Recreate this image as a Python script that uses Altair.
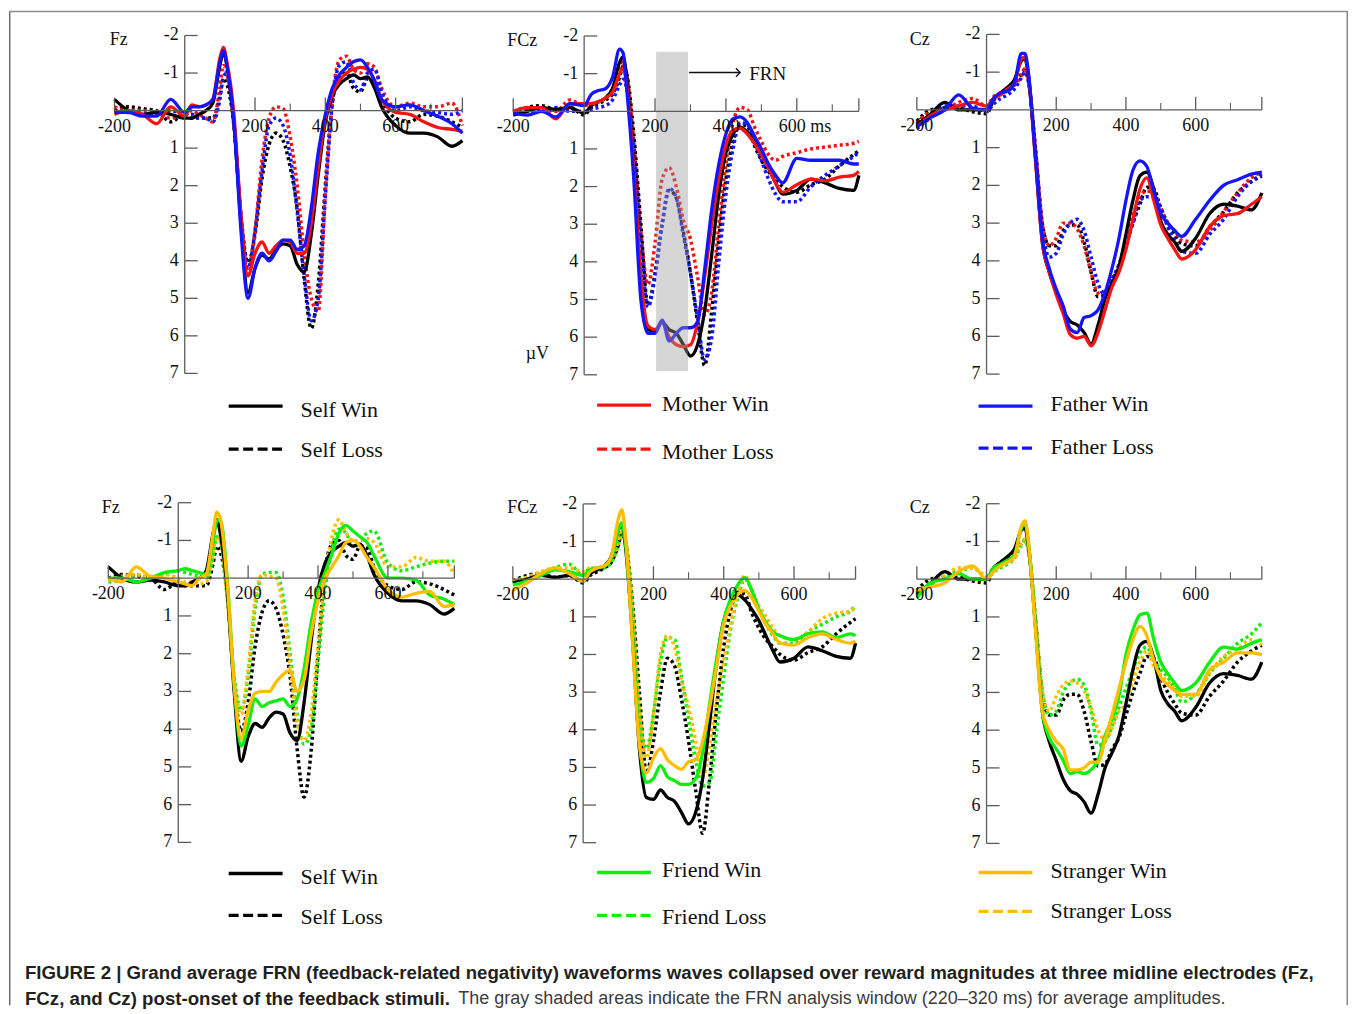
import altair as alt
import pandas as pd

# ---------------- time grids (ms) ----------------
T = [-200, -160, -120, -80, -40, 0, 20, 40, 60, 80, 100, 110, 120, 140, 160, 180, 200, 220,
     240, 260, 280, 300, 320, 340, 360, 380, 400, 420, 440, 460, 480, 500, 520, 540, 560,
     600, 640, 680, 720, 760, 790]
T_FCZ = T[:-1] + [775]

# ---------------- Fz ----------------
FZ_SELF_WIN = [-0.3, 0.0, 0.1, 0.05, 0.1, 0.2, 0.2, 0.1, 0.0, -0.2, -1.2, -1.55,
               -1.2, 0.3, 3.0, 4.85, 4.2, 3.85, 3.95, 3.7, 3.55, 3.6, 4.1, 4.3, 3.3, 1.7, 0.3,
               -0.4, -0.7, -0.85, -0.95, -0.85, -0.9, -0.6, -0.1, 0.4, 0.6, 0.6, 0.7, 0.95, 0.8]
FZ_SELF_LOSS = [0.0, -0.1, -0.05, 0.0, 0.3, 0.1, 0.2, 0.2, 0.2, 0.2, -0.4, -0.85,
                -0.7, 0.4, 2.8, 4.05, 3.3, 1.8, 0.9, 0.6, 0.8, 1.5, 2.6, 4.5, 5.8, 4.6, 2.0,
                -0.2, -0.9, -1.0, -0.6, -0.5, -0.85, -0.8, -0.3, 0.2, 0.3, 0.1, 0.15, 0.3, 0.45]
FZ_MOTHER_WIN = [0.1, 0.0, 0.1, 0.35, -0.1, 0.15, -0.15, -0.1, -0.15, -0.3, -1.4, -1.68,
                 -1.3, 0.1, 2.8, 4.4, 3.8, 3.5, 3.8, 3.6, 3.45, 3.5, 3.8, 3.8, 3.0, 1.5, 0.2,
                 -0.45, -0.8, -1.0, -1.1, -1.15, -1.1, -0.8, -0.3, 0.05, 0.1, 0.3, 0.45, 0.5, 0.55]
FZ_MOTHER_LOSS = [-0.1, 0.0, 0.0, 0.1, 0.2, 0.1, 0.0, 0.1, 0.2, 0.3, -0.6, -1.2,
                  -1.0, 0.4, 2.8, 4.35, 3.2, 1.3, 0.2, -0.1, -0.05, 0.7, 2.0, 3.8, 5.0, 5.35, 2.2,
                  -0.3, -1.35, -1.45, -1.1, -1.0, -1.25, -1.15, -0.6, -0.1, -0.2, -0.1, -0.1, -0.2, 0.4]
FZ_FATHER_WIN = [0.05, 0.05, 0.15, 0.15, -0.3, 0.05, -0.1, -0.1, -0.15, -0.3, -1.3, -1.6,
                 -1.2, 0.3, 3.2, 5.0, 4.2, 3.8, 4.0, 3.75, 3.45, 3.45, 3.7, 3.6, 2.6, 1.1, 0.1,
                 -0.6, -0.95, -1.15, -1.3, -1.35, -1.15, -0.8, -0.3, -0.1, -0.15, 0.0, 0.15, 0.35, 0.6]
FZ_FATHER_LOSS = [0.0, 0.05, 0.1, 0.1, 0.0, 0.1, 0.1, 0.2, 0.2, 0.3, -0.3, -0.9,
                  -1.0, 0.4, 2.8, 4.2, 3.2, 1.6, 0.4, 0.2, 0.4, 1.2, 2.7, 4.4, 5.6, 5.0, 2.3,
                  -0.2, -1.2, -1.3, -0.75, -0.55, -1.0, -1.1, -0.5, 0.0, -0.1, 0.0, 0.05, 0.1, 0.0]
FZ_FRIEND_WIN = [0.0, 0.0, 0.1, 0.0, -0.15, -0.2, -0.25, -0.2, -0.15, -0.1, -1.0, -1.5,
                 -1.55, 0.0, 2.8, 4.45, 3.9, 3.2, 3.4, 3.3, 3.25, 3.2, 3.4, 3.2, 2.4, 1.2, 0.35,
                 -0.15, -0.65, -1.2, -1.4, -1.25, -1.1, -0.95, -0.6, 0.0, 0.0, 0.05, 0.45, 0.55, 0.7]
FZ_FRIEND_LOSS = [0.1, 0.05, -0.1, 0.0, -0.1, -0.2, -0.15, -0.1, -0.05, 0.0, -0.6, -1.1,
                  -1.0, 0.5, 2.6, 3.5, 2.6, 0.8, -0.1, -0.15, -0.15, 0.5, 2.0, 3.6, 4.4, 4.0, 2.2,
                  0.3, -0.8, -1.3, -1.2, -0.85, -0.9, -1.2, -1.25, -0.4, -0.2, -0.3, -0.4, -0.45, -0.45]
FZ_STRANGER_WIN = [0.0, 0.1, -0.3, -0.05, 0.0, 0.1, 0.15, 0.2, 0.0, -0.1, -1.2, -1.75,
                   -1.6, 0.1, 2.8, 4.25, 3.5, 3.05, 3.0, 3.0, 2.75, 2.55, 2.45, 3.0, 2.7, 1.5, 0.6,
                   0.0, -0.3, -0.6, -0.95, -1.0, -0.85, -0.55, -0.3, 0.3, 0.5, 0.4, 0.35, 0.75, 0.7]
FZ_STRANGER_LOSS = [0.05, -0.05, -0.1, 0.0, -0.1, 0.0, 0.1, 0.1, 0.15, 0.1, -0.7, -1.1,
                    -1.0, 0.5, 2.7, 3.6, 2.4, 0.6, -0.1, -0.05, 0.0, 0.8, 2.3, 3.8, 4.3, 3.6, 1.8,
                    0.0, -1.1, -1.55, -1.2, -1.0, -1.0, -1.05, -0.95, -0.3, -0.3, -0.55, -0.45, -0.45, -0.1]

# ---------------- FCz ----------------
FCZ_SELF_WIN = [0.1, 0.0, -0.1, -0.05, -0.1, 0.05, -0.15, -0.25, -0.35, -0.6, -1.3, -1.45,
                -0.9, 1.5, 4.5, 5.8, 5.85, 5.6, 5.8, 5.9, 6.2, 6.5, 6.2, 5.3, 3.8, 2.2, 1.1,
                0.6, 0.42, 0.55, 0.8, 1.1, 1.5, 1.9, 2.2, 2.1, 1.8, 1.9, 2.05, 2.1, 1.7]
FCZ_SELF_LOSS = [0.05, -0.1, -0.15, -0.05, -0.1, 0.1, -0.1, -0.2, -0.3, -0.45, -0.9, -1.2,
                 -1.0, 0.6, 3.0, 5.15, 4.3, 3.0, 2.1, 2.3, 3.2, 4.3, 5.6, 6.75, 5.3, 3.4, 1.8,
                 0.8, 0.35, 0.4, 0.9, 1.3, 1.6, 1.8, 2.0, 2.15, 1.95, 1.8, 1.45, 1.15, 1.05]
FCZ_MOTHER_WIN = [0.0, -0.1, -0.1, 0.2, -0.2, -0.2, -0.2, -0.25, -0.35, -0.5, -1.0, -1.15,
                  -0.7, 1.5, 4.4, 5.7, 5.8, 5.6, 6.0, 6.2, 6.25, 6.2, 5.6, 4.4, 3.0, 1.8, 0.9,
                  0.5, 0.45, 0.6, 0.85, 1.15, 1.5, 1.9, 2.15, 1.95, 1.8, 1.85, 1.75, 1.7, 1.6]
FCZ_MOTHER_LOSS = [0.0, -0.1, -0.05, 0.0, -0.3, -0.15, -0.2, -0.25, -0.35, -0.6, -1.1, -1.3,
                   -1.0, 0.8, 3.2, 4.6, 3.5, 1.8, 1.5, 2.0, 2.9, 3.4, 4.4, 5.4, 4.8, 3.0, 1.4,
                   0.3, -0.1, -0.05, 0.4, 0.8, 1.15, 1.3, 1.2, 1.1, 1.0, 0.95, 0.9, 0.85, 0.8]
FCZ_FATHER_WIN = [0.05, 0.1, 0.0, 0.15, -0.2, -0.15, -0.45, -0.55, -0.6, -0.9, -1.65, -1.55,
                  -0.6, 1.8, 5.0, 5.9, 5.9, 5.55, 6.1, 5.9, 5.75, 5.75, 5.6, 4.2, 2.6, 1.4, 0.6,
                  0.2, 0.15, 0.3, 0.65, 1.0, 1.4, 1.7, 1.9, 1.25, 1.3, 1.3, 1.3, 1.4, 1.4]
FCZ_FATHER_LOSS = [0.05, 0.0, 0.0, -0.1, 0.0, 0.0, -0.05, -0.1, -0.15, -0.3, -0.7, -0.85,
                   -0.6, 1.0, 3.5, 5.2, 4.4, 3.0, 2.05, 2.3, 3.3, 4.3, 5.5, 6.6, 6.0, 4.0, 2.2,
                   1.0, 0.3, 0.35, 0.8, 1.3, 1.8, 2.2, 2.4, 2.4, 2.0, 1.7, 1.45, 1.2, 1.1]
FCZ_FRIEND_WIN = [0.15, 0.05, -0.1, -0.25, -0.2, -0.1, -0.25, -0.3, -0.35, -0.55, -1.3, -1.5,
                  -1.0, 1.5, 4.3, 5.4, 5.3, 4.95, 5.25, 5.35, 5.45, 5.45, 5.3, 4.6, 3.3, 2.1, 1.1,
                  0.5, 0.15, -0.05, 0.3, 0.8, 1.15, 1.4, 1.5, 1.6, 1.45, 1.4, 1.55, 1.45, 1.5]
FCZ_FRIEND_LOSS = [0.1, -0.05, -0.1, -0.3, -0.4, -0.1, -0.3, -0.25, -0.3, -0.45, -0.9, -1.25,
                   -1.0, 0.8, 3.6, 4.5, 3.6, 2.2, 1.55, 1.6, 2.6, 3.7, 4.8, 5.5, 5.4, 4.0, 2.6,
                   1.3, 0.5, 0.0, 0.3, 0.8, 1.2, 1.5, 1.7, 1.7, 1.4, 1.2, 1.0, 0.85, 0.7]
FCZ_STRANGER_WIN = [0.3, 0.1, -0.15, -0.3, -0.15, 0.05, -0.2, -0.3, -0.35, -0.6, -1.6, -1.85,
                    -1.2, 1.6, 4.4, 5.15, 4.75, 4.5, 4.8, 4.95, 5.05, 4.85, 4.8, 4.3, 3.4, 2.3, 1.2,
                    0.7, 0.4, 0.3, 0.5, 0.85, 1.2, 1.45, 1.7, 1.75, 1.55, 1.45, 1.6, 1.7, 1.65]
FCZ_STRANGER_LOSS = [0.05, -0.05, -0.2, -0.3, -0.3, -0.2, -0.3, -0.3, -0.35, -0.55, -1.0, -1.35,
                     -1.1, 0.7, 3.4, 4.75, 3.6, 2.0, 1.5, 1.8, 2.7, 3.4, 4.3, 5.25, 4.4, 3.2, 2.2,
                     1.2, 0.4, -0.1, 0.3, 0.7, 1.0, 1.3, 1.5, 1.6, 1.4, 1.05, 0.9, 0.85, 0.75]

# ---------------- Cz ----------------
CZ_SELF_WIN = [0.4, 0.1, -0.2, 0.0, 0.0, 0.0, -0.3, -0.45, -0.6, -0.8, -1.3, -1.35,
               -0.9, 1.2, 3.5, 4.3, 4.8, 5.3, 5.6, 5.7, 5.9, 6.2, 5.7, 5.0, 4.6, 4.15, 3.3,
               2.4, 1.75, 1.65, 2.1, 2.95, 3.3, 3.5, 3.75, 3.4, 2.75, 2.5, 2.55, 2.65, 2.2]
CZ_SELF_LOSS = [0.3, 0.0, -0.05, -0.05, 0.05, 0.1, -0.25, -0.45, -0.55, -0.7, -0.95, -1.05,
                -0.8, 1.0, 3.0, 3.6, 3.6, 3.2, 3.05, 3.05, 3.5, 4.3, 4.95, 4.9, 4.5, 4.2, 3.6,
                3.0, 2.5, 2.05, 2.1, 2.6, 3.0, 3.3, 3.55, 3.6, 3.1, 2.7, 2.2, 1.9, 1.75]
CZ_MOTHER_WIN = [0.45, 0.15, 0.0, -0.1, -0.2, -0.1, -0.3, -0.4, -0.55, -0.7, -1.35, -1.4,
                 -0.95, 1.3, 3.5, 4.3, 4.9, 5.4, 5.95, 6.05, 6.0, 6.25, 5.9, 5.3, 4.7, 4.3, 3.7,
                 2.9, 2.1, 1.8, 2.4, 3.05, 3.4, 3.7, 3.95, 3.7, 3.1, 2.8, 2.75, 2.5, 2.3]
CZ_MOTHER_LOSS = [0.35, 0.05, 0.0, -0.2, -0.3, -0.1, -0.35, -0.45, -0.5, -0.65, -0.9, -1.1,
                  -0.8, 1.0, 3.0, 3.6, 3.4, 3.0, 3.0, 3.15, 3.6, 4.3, 4.85, 4.8, 4.5, 4.1, 3.5,
                  2.8, 2.3, 2.15, 2.2, 2.6, 3.0, 3.2, 3.45, 3.5, 3.2, 2.7, 2.2, 1.8, 1.65]
CZ_FATHER_WIN = [0.45, 0.2, 0.0, -0.4, -0.05, 0.0, -0.3, -0.45, -0.5, -0.7, -1.5, -1.5,
                 -1.0, 1.2, 3.4, 4.2, 4.75, 5.2, 5.8, 5.9, 5.5, 5.45, 5.3, 4.85, 4.2, 3.4, 2.4,
                 1.6, 1.35, 1.5, 2.15, 2.75, 3.0, 3.2, 3.35, 2.9, 2.4, 2.0, 1.85, 1.7, 1.65]
CZ_FATHER_LOSS = [0.5, 0.2, -0.1, -0.1, -0.1, 0.05, -0.15, -0.3, -0.4, -0.55, -0.85, -1.0,
                  -0.75, 1.0, 3.1, 3.9, 3.8, 3.3, 3.0, 2.9, 3.2, 3.9, 4.6, 4.9, 4.5, 4.1, 3.6,
                  3.0, 2.4, 2.3, 2.3, 2.6, 3.1, 3.45, 3.75, 3.8, 3.3, 2.9, 2.3, 1.9, 1.7]
CZ_FRIEND_WIN = [0.5, 0.1, 0.0, -0.15, 0.0, 0.0, -0.3, -0.4, -0.5, -0.65, -1.35, -1.5,
                 -1.0, 1.2, 3.5, 4.2, 4.5, 4.8, 5.15, 5.1, 5.15, 5.05, 4.8, 4.15, 3.7, 3.1, 2.0,
                 1.35, 0.95, 0.9, 1.6, 2.2, 2.5, 2.75, 2.95, 2.75, 2.2, 1.8, 1.85, 1.7, 1.6]
CZ_FRIEND_LOSS = [0.4, 0.15, -0.1, -0.2, -0.3, -0.05, -0.2, -0.3, -0.4, -0.55, -0.9, -1.0,
                  -0.8, 1.0, 3.0, 3.6, 3.5, 3.0, 2.75, 2.65, 2.8, 3.5, 4.4, 4.3, 3.9, 3.4, 2.9,
                  2.4, 1.95, 1.8, 2.15, 2.4, 2.6, 2.9, 3.25, 3.05, 2.5, 2.1, 1.7, 1.45, 1.15]
CZ_STRANGER_WIN = [0.3, 0.2, 0.1, -0.2, -0.35, 0.0, -0.2, -0.35, -0.45, -0.6, -1.4, -1.55,
                   -1.0, 1.3, 3.5, 4.0, 4.3, 4.5, 5.05, 5.05, 5.0, 4.85, 4.85, 4.25, 3.6, 2.9, 2.2,
                   1.6, 1.25, 1.5, 2.15, 2.6, 2.8, 2.95, 3.05, 3.05, 2.4, 2.2, 1.95, 1.95, 2.0]
CZ_STRANGER_LOSS = [0.35, 0.1, -0.1, -0.3, -0.3, -0.1, -0.3, -0.35, -0.45, -0.55, -0.95, -1.05,
                    -0.8, 1.0, 3.0, 3.5, 3.1, 2.8, 2.7, 2.75, 2.95, 3.4, 4.0, 4.25, 3.95, 3.5, 3.3,
                    2.7, 2.2, 1.9, 2.3, 2.55, 2.7, 2.9, 3.1, 3.1, 2.5, 2.05, 1.85, 1.6, 1.75]

# ---------------- text ----------------
Y_TICKS = [-2, -1, 1, 2, 3, 4, 5, 6, 7]
X_TICKS = [-200, 200, 400, 600]
X_MINOR = [300, 500, 700]
LEGEND_TOP = ["Self  Win", "Self  Loss", "Mother Win", "Mother Loss", "Father Win", "Father Loss"]
LEGEND_BOTTOM = ["Self  Win", "Self  Loss", "Friend Win", "Friend Loss", "Stranger Win", "Stranger Loss"]
CAPTION_BOLD_1 = ("FIGURE 2 | Grand average FRN (feedback-related negativity) waveforms waves collapsed "
                  "over reward magnitudes at three midline electrodes (Fz,")
CAPTION_BOLD_2 = "FCz, and Cz) post-onset of the feedback stimuli."
CAPTION_REG_2 = "The gray shaded areas indicate the FRN analysis window (220\u2013320 ms) for average amplitudes."
FRN_WINDOW = [203, 293]

# ---------------- styles ----------------
BLACK, RED, BLUE, GREEN, ORANGE = "#000000", "#f41414", "#1414ff", "#10ee10", "#ffbd00"
AX = "#5c5c5c"
SERIF = "Liberation Serif"
M = 8  # page margin

PANELS = [
    dict(name="Fz", px0=184, k=0.352, y0=110, ky=37.6, xend=790, lab=(118, 39), t=T,
         series=[(FZ_SELF_LOSS, BLACK, True), (FZ_MOTHER_LOSS, RED, True), (FZ_FATHER_LOSS, BLUE, True),
                 (FZ_SELF_WIN, BLACK, False), (FZ_MOTHER_WIN, RED, False), (FZ_FATHER_WIN, BLUE, False)]),
    dict(name="FCz", px0=584, k=0.355, y0=110.7, ky=37.7, xend=775, lab=(522, 40), t=T_FCZ, special=True,
         series=[(FCZ_SELF_LOSS, BLACK, True), (FCZ_MOTHER_LOSS, RED, True), (FCZ_FATHER_LOSS, BLUE, True),
                 (FCZ_SELF_WIN, BLACK, False), (FCZ_MOTHER_WIN, RED, False), (FCZ_FATHER_WIN, BLUE, False)]),
    dict(name="Cz", px0=987, k=0.349, y0=109.3, ky=37.8, xend=790, lab=(920, 39), t=T,
         series=[(CZ_SELF_LOSS, BLACK, True), (CZ_MOTHER_LOSS, RED, True), (CZ_FATHER_LOSS, BLUE, True),
                 (CZ_SELF_WIN, BLACK, False), (CZ_MOTHER_WIN, RED, False), (CZ_FATHER_WIN, BLUE, False)]),
    dict(name="Fz", px0=177.5, k=0.350, y0=578.3, ky=37.8, xend=790, lab=(110, 508), t=T,
         series=[(FZ_SELF_LOSS, BLACK, True), (FZ_FRIEND_LOSS, GREEN, True), (FZ_STRANGER_LOSS, ORANGE, True),
                 (FZ_SELF_WIN, BLACK, False), (FZ_FRIEND_WIN, GREEN, False), (FZ_STRANGER_WIN, ORANGE, False)]),
    dict(name="FCz", px0=583, k=0.352, y0=579.3, ky=37.7, xend=775, lab=(522, 508), t=T_FCZ,
         series=[(FCZ_SELF_LOSS, BLACK, True), (FCZ_FRIEND_LOSS, GREEN, True), (FCZ_STRANGER_LOSS, ORANGE, True),
                 (FCZ_SELF_WIN, BLACK, False), (FCZ_FRIEND_WIN, GREEN, False), (FCZ_STRANGER_WIN, ORANGE, False)]),
    dict(name="Cz", px0=987, k=0.349, y0=579.3, ky=37.8, xend=790, lab=(920, 508), t=T,
         series=[(CZ_SELF_LOSS, BLACK, True), (CZ_FRIEND_LOSS, GREEN, True), (CZ_STRANGER_LOSS, ORANGE, True),
                 (CZ_SELF_WIN, BLACK, False), (CZ_FRIEND_WIN, GREEN, False), (CZ_STRANGER_WIN, ORANGE, False)]),
]


def make_panel(p):
    k, px0, ky, y0 = p["k"], p["px0"], p["ky"], p["y0"]
    xs = alt.Scale(domain=[-200, 800], range=[px0 - 200 * k - M, px0 + 800 * k - M], nice=False, zero=False)
    ys = alt.Scale(domain=[-2, 7], range=[y0 - 2 * ky - M, y0 + 7 * ky - M], nice=False, zero=False)

    def X(f):
        return alt.X(f, scale=xs, axis=None)

    def Y(f):
        return alt.Y(f, scale=ys, axis=None)

    layers = []
    for vals, col, dotted in p["series"]:
        df = pd.DataFrame({"t": p["t"], "v": vals})
        kw = dict(color=col, strokeWidth=3.3, interpolate="monotone")
        if dotted:
            kw.update(strokeDash=[3, 3], strokeWidth=3.5)
        layers.append(alt.Chart(df).mark_line(**kw).encode(x=X("t:Q"), y=Y("v:Q")))

    if p.get("special"):
        rdf = pd.DataFrame({"x": [FRN_WINDOW[0]], "x2": [FRN_WINDOW[1]], "y": [-1.58], "y2": [6.9]})
        layers.append(alt.Chart(rdf).mark_rect(color="#9a9a9a", opacity=0.42).encode(
            x=X("x:Q"), x2="x2:Q", y=Y("y:Q"), y2="y2:Q"))
        adf = pd.DataFrame({"x": [FRN_WINDOW[1] + 3], "x2": [438], "y": [-1.03]})
        layers.append(alt.Chart(adf).mark_rule(color="#111111", strokeWidth=1.4).encode(
            x=X("x:Q"), x2="x2:Q", y=Y("y:Q")))
        hdf = pd.DataFrame({"x": [440], "y": [-1.03]})
        layers.append(alt.Chart(hdf).mark_point(shape="M-1,-1L0,0L-1,1", filled=False, size=70,
                                                color="#111111", strokeWidth=1.4, opacity=1).encode(
            x=X("x:Q"), y=Y("y:Q")))
        fdf = pd.DataFrame({"x": [466], "y": [-1.0], "s": ["FRN"]})
        layers.append(alt.Chart(fdf).mark_text(font=SERIF, fontSize=19, align="left", baseline="middle",
                                               color="#111111").encode(x=X("x:Q"), y=Y("y:Q"), text="s:N"))
        udf = pd.DataFrame({"x": [-132], "y": [6.45], "s": ["\u00b5V"]})
        layers.append(alt.Chart(udf).mark_text(font=SERIF, fontSize=18, align="center", baseline="middle",
                                               color="#111111").encode(x=X("x:Q"), y=Y("y:Q"), text="s:N"))

    # axes lines
    layers.append(alt.Chart(pd.DataFrame({"x": [-200], "x2": [p["xend"]], "y": [0]})).mark_rule(
        color=AX, strokeWidth=1.3).encode(x=X("x:Q"), x2="x2:Q", y=Y("y:Q")))
    layers.append(alt.Chart(pd.DataFrame({"x": [0], "y": [-2], "y2": [7]})).mark_rule(
        color=AX, strokeWidth=1.3).encode(x=X("x:Q"), y=Y("y:Q"), y2="y2:Q"))
    # y ticks
    ydf = pd.DataFrame({"y": Y_TICKS, "x": [0] * len(Y_TICKS), "x2": [13 / k] * len(Y_TICKS),
                        "s": [str(v) for v in Y_TICKS]})
    layers.append(alt.Chart(ydf).mark_rule(color=AX, strokeWidth=1.3).encode(
        x=X("x:Q"), x2="x2:Q", y=Y("y:Q")))
    layers.append(alt.Chart(ydf).mark_text(font=SERIF, fontSize=18, align="right", baseline="middle",
                                           dx=-6, color="#111111").encode(x=X("x:Q"), y=Y("y:Q"), text="s:N"))
    # x ticks
    xt = X_TICKS + [p["xend"]]
    xdf = pd.DataFrame({"x": xt, "y": [0] * len(xt), "y2": [-13 / ky] * len(xt)})
    layers.append(alt.Chart(xdf).mark_rule(color=AX, strokeWidth=1.3).encode(
        x=X("x:Q"), y=Y("y:Q"), y2="y2:Q"))
    mdf = pd.DataFrame({"x": X_MINOR, "y": [0] * len(X_MINOR), "y2": [-7 / ky] * len(X_MINOR)})
    layers.append(alt.Chart(mdf).mark_rule(color=AX, strokeWidth=1.1).encode(
        x=X("x:Q"), y=Y("y:Q"), y2="y2:Q"))
    labs = [str(v) for v in X_TICKS]
    if p.get("special"):
        ldf = pd.DataFrame({"x": X_TICKS[:-1], "y": [0] * 3, "s": labs[:-1]})
        layers.append(alt.Chart(pd.DataFrame({"x": [600], "y": [0], "s": ["600 ms"]})).mark_text(
            font=SERIF, fontSize=18, align="left", baseline="middle", dx=-18, dy=16, color="#111111").encode(
            x=X("x:Q"), y=Y("y:Q"), text="s:N"))
    else:
        ldf = pd.DataFrame({"x": X_TICKS, "y": [0] * 4, "s": labs})
    layers.append(alt.Chart(ldf).mark_text(font=SERIF, fontSize=18, align="center", baseline="middle",
                                           dy=16, color="#111111").encode(x=X("x:Q"), y=Y("y:Q"), text="s:N"))
    # electrode label
    layers.append(alt.Chart(pd.DataFrame({"s": [p["name"]]})).mark_text(
        font=SERIF, fontSize=18, align="center", baseline="middle", color="#111111").encode(
        x=alt.value(p["lab"][0] - M), y=alt.value(p["lab"][1] - M), text="s:N"))
    return alt.layer(*layers)


def legend_entry(label, color, dashed, lx0, lx1, ly, tx, ty):
    kw = dict(color=color, strokeWidth=3.4)
    if dashed:
        kw["strokeDash"] = [10, 4.5]
    line = alt.Chart(pd.DataFrame({"s": [label]})).mark_rule(**kw).encode(
        x=alt.value(lx0 - M), x2=alt.value(lx1 - M), y=alt.value(ly - M))
    txt = alt.Chart(pd.DataFrame({"s": [label]})).mark_text(
        font=SERIF, fontSize=22, align="left", baseline="middle", color="#111111").encode(
        x=alt.value(tx - M), y=alt.value(ty - M), text="s:N")
    return [line, txt]


legend_layers = []
cols = [(228, 282, 300), (597, 651, 662), (979, 1033, 1051)]
top_pos = [(406, 410, 449, 450), (405, 404, 449, 452), (406, 404, 448, 447)]
bot_pos = [(874, 878, 916, 918), (873, 871, 916, 918), (873, 872, 912, 912)]
top_cols = [BLACK, RED, BLUE]
bot_cols = [BLACK, GREEN, ORANGE]
for i in range(3):
    lx0, lx1, tx = cols[i]
    a, b, c, d = top_pos[i]
    legend_layers += legend_entry(LEGEND_TOP[2 * i], top_cols[i], False, lx0, lx1, a, tx, b)
    legend_layers += legend_entry(LEGEND_TOP[2 * i + 1], top_cols[i], True, lx0, lx1, c, tx, d)
    a, b, c, d = bot_pos[i]
    legend_layers += legend_entry(LEGEND_BOTTOM[2 * i], bot_cols[i], False, lx0, lx1, a, tx, b)
    legend_layers += legend_entry(LEGEND_BOTTOM[2 * i + 1], bot_cols[i], True, lx0, lx1, c, tx, d)

# frame
W, H = 1341, 998
frame = [
    alt.Chart(pd.DataFrame({"a": [0]})).mark_rule(color="#6e6e6e", strokeWidth=1.5).encode(
        x=alt.value(0.75), y=alt.value(2.5), y2=alt.value(H)),
    alt.Chart(pd.DataFrame({"a": [0]})).mark_rule(color="#8a8a8a", strokeWidth=1.5).encode(
        x=alt.value(0), x2=alt.value(W), y=alt.value(2.75)),
    alt.Chart(pd.DataFrame({"a": [0]})).mark_rule(color="#8a8a8a", strokeWidth=1.5).encode(
        x=alt.value(W - 0.75), y=alt.value(2.5), y2=alt.value(H)),
]

CAPFONT = "Liberation Sans, Arial"
caption = [
    alt.Chart(pd.DataFrame({"s": [CAPTION_BOLD_1]})).mark_text(
        font=CAPFONT, fontSize=18.7, fontWeight="bold", align="left", baseline="middle", color="#231f20").encode(
        x=alt.value(24 - M), y=alt.value(974 - M), text="s:N"),
    alt.Chart(pd.DataFrame({"s": [CAPTION_BOLD_2]})).mark_text(
        font=CAPFONT, fontSize=18.7, fontWeight="bold", align="left", baseline="middle", color="#231f20").encode(
        x=alt.value(24 - M), y=alt.value(1000 - M), text="s:N"),
    alt.Chart(pd.DataFrame({"s": [CAPTION_REG_2]})).mark_text(
        font=CAPFONT, fontSize=18.0, align="left", baseline="middle", color="#3c3c3c").encode(
        x=alt.value(458 - M), y=alt.value(1000 - M), text="s:N"),
]

panels = [make_panel(p) for p in PANELS]

chart = alt.layer(*panels, *legend_layers, *frame, *caption).resolve_scale(
    x="independent", y="independent"
).properties(width=W, height=H, padding=0, background="white").configure_view(strokeWidth=0)

chart.save("out.html", embed_options={"renderer": "svg", "actions": False})
